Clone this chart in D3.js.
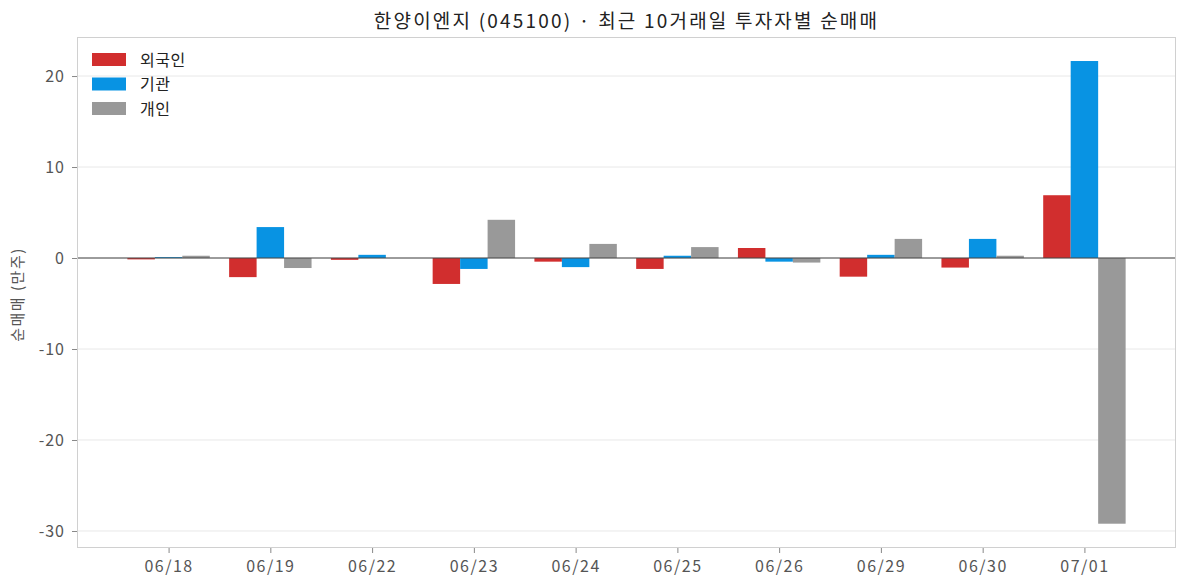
<!DOCTYPE html>
<html><head><meta charset="utf-8">
<script src="https://cdn.jsdelivr.net/npm/d3@7"></script>
<style>body{margin:0;background:#fff}svg{display:block;font-family:"Noto Sans CJK KR","Noto Sans",sans-serif}</style>
</head><body><svg id="c" width="1187" height="587"></svg>
<script>
const dates = ["06/18","06/19","06/22","06/23","06/24","06/25","06/26","06/29","06/30","07/01"];
const seriesNames = ["외국인","기관","개인"];
const foreign = [-0.15,-2.1,-0.2,-2.85,-0.4,-1.2,1.1,-2.05,-1.05,6.9];
const institution = [0.1,3.4,0.35,-1.2,-1.0,0.25,-0.4,0.35,2.1,21.65];
const individual = [0.25,-1.1,0.0,4.2,1.55,1.2,-0.5,2.1,0.25,-29.2];
const yTicks = [20,10,0,-10,-20,-30];
const colors = ["#d12e2e","#0893e3","#999999"];
const title = "한양이엔지 (045100) · 최근 10거래일 투자자별 순매매";
const yLabel = "순매매 (만주)";

const svg = d3.select("#c");
const L=77,R=1176,T=37,B=548;
const x = d3.scaleLinear().domain([-0.9,9.9]).range([L,R]);
const y = d3.scaleLinear().domain([-31.87,24.29]).range([B,T]);
const series=[foreign,institution,individual];
const bw=0.27;

// grid
svg.append("g").selectAll("line").data(yTicks).join("line")
 .attr("x1",L).attr("x2",R).attr("y1",d=>y(d)).attr("y2",d=>y(d))
 .attr("stroke","#e8e8e8").attr("stroke-width",1);

// bars
series.forEach((s,k)=>{
 svg.append("g").selectAll("rect").data(s).join("rect")
  .attr("x",(d,i)=>x(i+(k-1)*bw-bw/2))
  .attr("width",x(bw)-x(0))
  .attr("y",d=>y(Math.max(0,d)))
  .attr("height",d=>Math.abs(y(d)-y(0)))
  .attr("fill",colors[k]);
});
// zero line
svg.append("line").attr("x1",L).attr("x2",R).attr("y1",y(0)).attr("y2",y(0)).attr("stroke","#444").attr("stroke-width",1);

// frame
svg.append("rect").attr("x",L+0.5).attr("y",T+0.5).attr("width",R-L-1).attr("height",B-T-1).attr("fill","none").attr("stroke","#d0d0d0");

const tickFont = "'Noto Sans CJK KR', sans-serif";
// y axis
const ya=svg.append("g").attr("transform",`translate(${L},0)`).call(d3.axisLeft(y).tickValues(yTicks).tickSize(5).tickPadding(7).tickFormat(d=>String(d)));
ya.select(".domain").remove();
ya.selectAll("line").attr("stroke","#888");
ya.selectAll("text").attr("fill","#555").style("font-size","16px").style("letter-spacing","1px").style("font-family",tickFont);
// x axis
const xa=svg.append("g").attr("transform",`translate(0,${B})`).call(d3.axisBottom(x).tickValues(d3.range(dates.length)).tickFormat(i=>dates[i]).tickSize(5).tickPadding(8));
xa.select(".domain").remove();
xa.selectAll("line").attr("stroke","#888");
xa.selectAll("text").attr("fill","#555").style("font-size","16px").style("letter-spacing","1.5px").style("font-family",tickFont);

// title
svg.append("text").attr("x",(L+R)/2).attr("y",28).attr("text-anchor","middle").attr("fill","#222").style("font-size","19px").style("letter-spacing","2.2px").text(title);
// y label
svg.append("text").attr("transform",`translate(23,${(T+B)/2+2}) rotate(-90)`).attr("text-anchor","middle").attr("fill","#555").style("font-size","15px").style("letter-spacing","1.5px").text(yLabel);

// legend
const lg=svg.append("g");
seriesNames.forEach((n,k)=>{
 lg.append("rect").attr("x",92).attr("y",53+k*24.5).attr("width",34).attr("height",13).attr("fill",colors[k]);
 lg.append("text").attr("x",140).attr("y",65.5+k*24.5).attr("fill","#222").style("font-size","16px").style("letter-spacing","0.5px").text(n);
});
</script></body></html>
